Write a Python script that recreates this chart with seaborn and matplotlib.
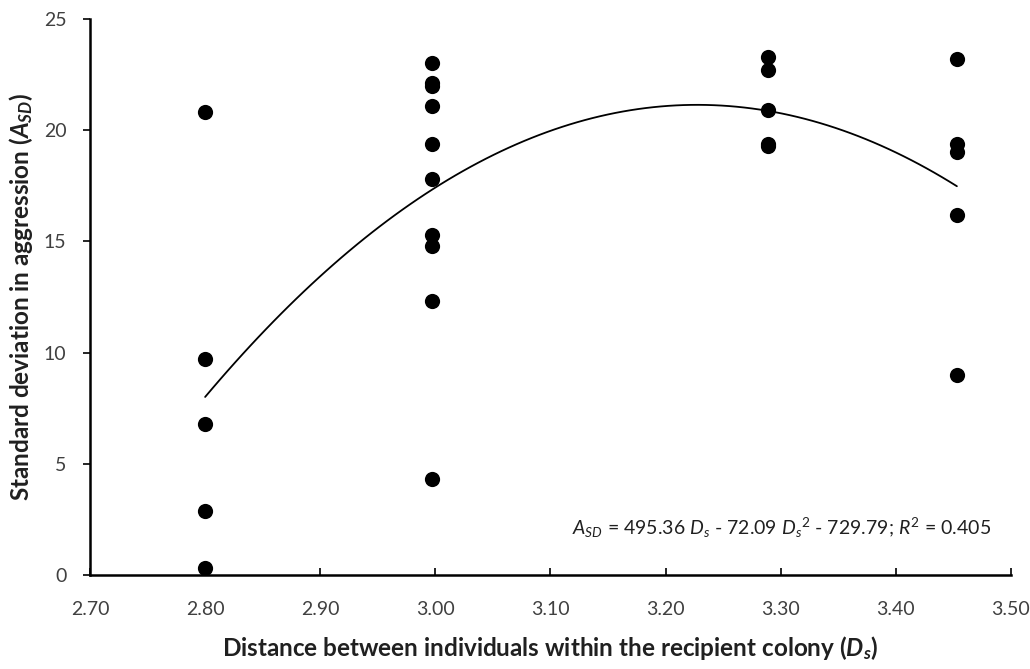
import numpy as np
import pandas as pd
import matplotlib
matplotlib.use("Agg")
import matplotlib.pyplot as plt
import seaborn as sns

# Data
ds_280 = [20.8, 9.7, 6.8, 2.9, 0.3]
ds_300 = [23.0, 22.1, 22.0, 21.1, 19.4, 17.8, 15.3, 14.8, 12.3, 4.3]
ds_329 = [23.3, 22.7, 20.9, 19.4, 19.3]
ds_345 = [23.2, 19.4, 19.0, 16.2, 9.0]
x_groups = [2.800, 2.997, 3.289, 3.453]

x_ticks = [2.70, 2.80, 2.90, 3.00, 3.10, 3.20, 3.30, 3.40, 3.50]
y_ticks = [0, 5, 10, 15, 20, 25]

xs, ys = [], []
for xv, vals in zip(x_groups, [ds_280, ds_300, ds_329, ds_345]):
    xs += [xv] * len(vals)
    ys += vals
df = pd.DataFrame({"Ds": xs, "Asd": ys})

sns.set_theme(style="white")
plt.rcParams["font.family"] = ["Lato", "DejaVu Sans"]
plt.rcParams["mathtext.fontset"] = "custom"
plt.rcParams["mathtext.rm"] = "Lato"
plt.rcParams["mathtext.it"] = "Lato:italic"
plt.rcParams["mathtext.bf"] = "Lato:bold:italic"

fig = plt.figure(figsize=(10.30, 6.69), dpi=100)
ax = fig.add_axes([90/1030, 1-575/669, (1011-90)/1030, (575-19)/669])

sns.regplot(data=df, x="Ds", y="Asd", order=2, ci=None, scatter=False,
            line_kws={"color": "black", "lw": 1.3}, ax=ax)
sns.scatterplot(data=df, x="Ds", y="Asd", color="black", s=120,
                edgecolor="black", linewidth=0, ax=ax, zorder=3)

ax.set_xlim(2.70, 3.50)
ax.set_ylim(0, 25)
ax.set_xticks(x_ticks)
ax.set_xticklabels([f"{t:.2f}" for t in x_ticks])
ax.set_yticks(y_ticks)
ax.set_yticklabels([str(t) for t in y_ticks])

for side in ["top", "right"]:
    ax.spines[side].set_visible(False)
for side in ["left", "bottom"]:
    ax.spines[side].set_color("black")
    ax.spines[side].set_linewidth(1.8)

ax.tick_params(axis="x", direction="in", length=5, width=1.2, color="black",
               pad=19, labelsize=14, labelcolor="#404040")
ax.tick_params(axis="y", direction="out", length=5, width=1.2, color="black",
               pad=12, labelsize=14, labelcolor="#404040")
ax.tick_params(left=True, bottom=True)
ax.grid(False)

ax.set_xlabel(r"Distance between individuals within the recipient colony ($\mathbf{D_s}$)",
              fontsize=17.5, fontweight="bold", color="#202020", labelpad=11)
ax.set_ylabel(r"Standard deviation in aggression ($\mathbf{A_{SD}}$)",
              fontsize=17.5, fontweight="bold", color="#202020", labelpad=6)

ax.text(0.978, 0.085,
        r"$A_{SD}$ = 495.36 $D_s$ - 72.09 $D_s$$^2$ - 729.79; $R^2$ = 0.405",
        transform=ax.transAxes, ha="right", va="center", fontsize=14,
        color="#202020")

fig.savefig("out.png", dpi=100)
